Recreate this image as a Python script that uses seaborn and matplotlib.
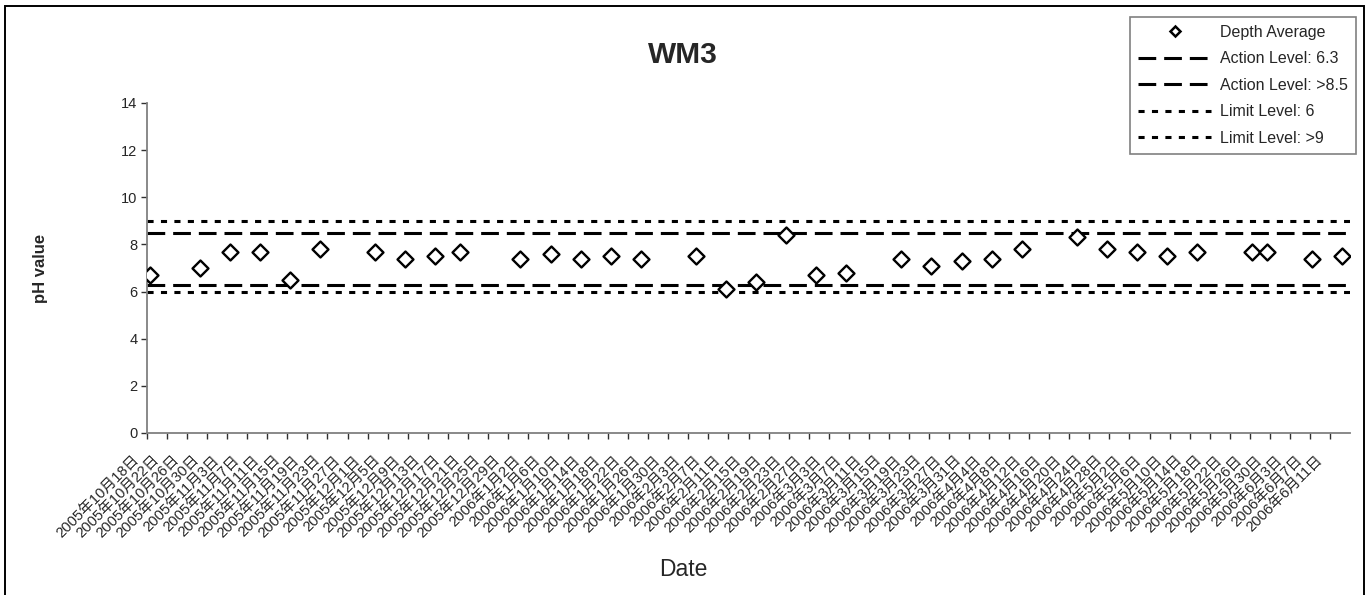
import numpy as np
import pandas as pd
import matplotlib
matplotlib.use("Agg")
import matplotlib.pyplot as plt
import seaborn as sns
from matplotlib.patches import Rectangle
from matplotlib.transforms import ScaledTranslation

# ---------------- data ----------------
dates = ["2005-10-18", "2005-10-28", "2005-11-03", "2005-11-09", "2005-11-15",
         "2005-11-21", "2005-12-02", "2005-12-08", "2005-12-14", "2005-12-19",
         "2005-12-31", "2006-01-06", "2006-01-12", "2006-01-18", "2006-01-24",
         "2006-02-04", "2006-02-10", "2006-02-16", "2006-02-22", "2006-02-28",
         "2006-03-06", "2006-03-17", "2006-03-23", "2006-03-29", "2006-04-04",
         "2006-04-10", "2006-04-21", "2006-04-27", "2006-05-03", "2006-05-09",
         "2006-05-15", "2006-05-26", "2006-05-29", "2006-06-07", "2006-06-13"]
ph_values = [6.7, 7.0, 7.7, 7.7, 6.5, 7.8, 7.7, 7.4, 7.5, 7.7,
             7.4, 7.6, 7.4, 7.5, 7.4, 7.5, 6.1, 6.4, 8.4, 6.7,
             6.8, 7.4, 7.1, 7.3, 7.4, 7.8, 8.3, 7.8, 7.7, 7.5,
             7.7, 7.7, 7.7, 7.4, 7.5]
level_labels = ["Action Level: 6.3", "Action Level: >8.5", "Limit Level: 6", "Limit Level: >9"]
level_values = [6.3, 8.5, 6.0, 9.0]
axis_start = "2005-10-18"
axis_end = "2006-06-14"
tick_start = "2005-10-18"
tick_end = "2006-06-11"
tick_step_days = 4
y_ticks = [0, 2, 4, 6, 8, 10, 12, 14]
title = "WM3"
x_title = "Date"
y_title = "pH value"

# ---------------- style ----------------
sns.set_theme(style="white")
plt.rcParams["font.family"] = ["Liberation Sans", "Noto Sans CJK SC", "DejaVu Sans"]

W, H = 1369, 595
fig = plt.figure(figsize=(W / 100, H / 100), dpi=100)
ax = fig.add_axes([147 / W, 1 - 433 / H, (1350 - 147) / W, (433 - 103) / H])

t0 = pd.Timestamp(axis_start)
day = (pd.to_datetime(dates) - t0).days.values.astype(float)
df = pd.DataFrame({"day": day, "ph": ph_values})

# level lines
styles = [
    dict(ls=(0, (5.8, 2.6)), lw=2.2),
    dict(ls=(0, (5.8, 2.6)), lw=2.2),
    dict(ls=(0, (2.0, 2.4)), lw=2.2),
    dict(ls=(0, (2.0, 2.4)), lw=2.2),
]
level_handles = []
for lab, val, st in zip(level_labels, level_values, styles):
    h = ax.axhline(val, color="black", linestyle=st["ls"], linewidth=st["lw"], label=lab, zorder=2)
    level_handles.append(h)

sns.scatterplot(data=df, x="day", y="ph", marker="D", s=66, facecolor="white",
                edgecolor="black", linewidth=1.7, ax=ax, label="Depth Average", zorder=3,
                legend=False)

# axes
xmax = (pd.Timestamp(axis_end) - t0).days
ax.set_xlim(-0.5, xmax + 0.5)
ax.set_ylim(y_ticks[0], y_ticks[-1])
ax.set_yticks(y_ticks)
ax.set_yticklabels([str(v) for v in y_ticks], fontsize=10.5)

tick_dates = pd.date_range(tick_start, tick_end, freq=f"{tick_step_days}D")
tick_pos = (tick_dates - t0).days.values - 0.5
tick_labels = [f"{d.year}年{d.month}月{d.day}日" for d in tick_dates]
ax.set_xticks(tick_pos)
ax.set_xticklabels(tick_labels, rotation=45, ha="right", va="center",
                   rotation_mode="anchor", fontsize=10.6)

for s in ["top", "right"]:
    ax.spines[s].set_visible(False)
for s in ["left", "bottom"]:
    ax.spines[s].set_color("#808080")
    ax.spines[s].set_linewidth(1.3)
ax.tick_params(axis="both", direction="out", length=4, width=1.0, color="#303030",
               left=True, bottom=True, pad=3)
ax.set_xlabel("")
ax.set_ylabel("")

# shift the rotated date labels (after tick_params, which resets transforms)
shift = ScaledTranslation(-0.10, -0.15, fig.dpi_scale_trans)
for lbl in ax.xaxis.get_majorticklabels():
    lbl.set_transform(lbl.get_transform() + shift)

fig.text(683 / W, 1 - 55 / H, title, ha="center", va="center", fontsize=21.5, fontweight="bold")
fig.text(40 / W, 1 - 268 / H, y_title, ha="center", va="center", rotation=90,
         fontsize=12, fontweight="bold")
fig.text(683 / W, 1 - 570 / H, x_title, ha="center", va="center", fontsize=16.5)

# legend
marker_handle = plt.Line2D([], [], marker="D", markersize=5.5, markerfacecolor="white",
                           markeredgecolor="black", markeredgewidth=1.8, linestyle="none")
handles = [marker_handle] + level_handles
labels = ["Depth Average"] + level_labels
leg = fig.legend(handles, labels, loc="upper right",
                 bbox_to_anchor=(1356 / W, 1 - 17 / H), fontsize=11.5,
                 frameon=True, fancybox=False, shadow=False, handlelength=4.6,
                 handletextpad=0.55, labelspacing=0.72, borderpad=0.5, borderaxespad=0)
leg.get_frame().set_edgecolor("#606060")
leg.get_frame().set_linewidth(1.2)

# outer chart border
fig.add_artist(Rectangle((5 / W, -0.05), (1364 - 5) / W, 1.05 - 6 / H,
                         transform=fig.transFigure, fill=False, edgecolor="black",
                         linewidth=1.4))

fig.savefig("out.png", dpi=100)
